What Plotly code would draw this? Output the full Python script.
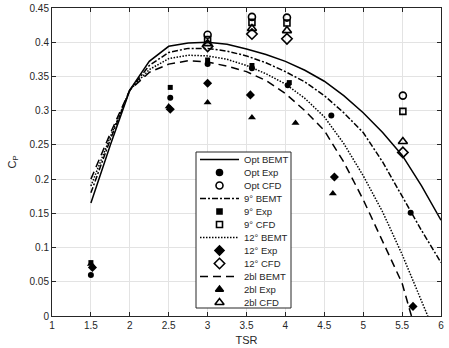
import plotly.graph_objects as go

# ---------------- data ----------------
tsr_bemt = [1.5, 1.75, 2.0, 2.25, 2.5, 2.75, 3.0, 3.25, 3.5, 3.75, 4.0, 4.25, 4.5, 4.75, 5.0, 5.25, 5.5, 5.75, 6.0]
opt_bemt = [0.165, 0.250, 0.330, 0.372, 0.394, 0.399, 0.400, 0.397, 0.390, 0.382, 0.372, 0.359, 0.343, 0.322, 0.297, 0.268, 0.235, 0.190, 0.140]
nine_bemt = [0.180, 0.258, 0.330, 0.366, 0.385, 0.391, 0.391, 0.387, 0.380, 0.370, 0.357, 0.342, 0.322, 0.297, 0.268, 0.225, 0.175, 0.125, 0.078]
tsr_twelve_bemt = [1.5, 1.75, 2.0, 2.25, 2.5, 2.75, 3.0, 3.25, 3.5, 3.75, 4.0, 4.25, 4.5, 4.75, 5.0, 5.25, 5.5, 5.75, 5.83]
twelve_bemt = [0.190, 0.262, 0.330, 0.360, 0.376, 0.381, 0.380, 0.375, 0.366, 0.354, 0.339, 0.318, 0.291, 0.252, 0.205, 0.152, 0.090, 0.022, 0.0]
tsr_twobl_bemt = [1.5, 1.75, 2.0, 2.25, 2.5, 2.75, 3.0, 3.25, 3.5, 3.75, 4.0, 4.25, 4.5, 4.75, 5.0, 5.25, 5.5, 5.62]
twobl_bemt = [0.200, 0.267, 0.330, 0.356, 0.368, 0.373, 0.371, 0.365, 0.357, 0.344, 0.325, 0.300, 0.271, 0.225, 0.170, 0.108, 0.048, 0.0]

tsr_opt_exp = [1.5, 2.52, 3.0, 3.57, 4.03, 4.59, 5.61]
opt_exp = [0.060, 0.319, 0.368, 0.362, 0.337, 0.293, 0.151]
tsr_nine_exp = [1.5, 2.52, 3.0, 3.57, 4.05]
nine_exp = [0.078, 0.334, 0.374, 0.366, 0.341]
tsr_twelve_exp = [1.52, 2.52, 3.0, 3.55, 4.63, 5.64]
twelve_exp = [0.071, 0.302, 0.340, 0.323, 0.203, 0.014]
tsr_twobl_exp = [1.5, 2.5, 3.0, 3.57, 4.13, 4.61]
twobl_exp = [0.076, 0.306, 0.312, 0.290, 0.282, 0.179]

tsr_cfd = [3.0, 3.57, 4.02, 5.51]
opt_cfd = [0.411, 0.437, 0.436, 0.322]
nine_cfd = [0.404, 0.429, 0.428, 0.299]
twelve_cfd = [0.394, 0.412, 0.405, 0.239]
twobl_cfd = [0.398, 0.420, 0.417, 0.255]

legend_names = ["Opt BEMT", "Opt Exp", "Opt CFD",
                "9° BEMT", "9° Exp", "9° CFD",
                "12° BEMT", "12° Exp", "12° CFD",
                "2bl BEMT", "2bl Exp", "2bl CFD"]

x_ticks = [1, 1.5, 2, 2.5, 3, 3.5, 4, 4.5, 5, 5.5, 6]
y_ticks = [0, 0.05, 0.1, 0.15, 0.2, 0.25, 0.3, 0.35, 0.4, 0.45]

# ---------------- styles ----------------
INK = "#262626"
FONT = "Liberation Sans, Arial, sans-serif"
dashes = {"solid": "solid", "dashdot": "6px,2px,2px,2px", "dot": "1.5px,1.5px", "dash": "8px,5px"}

line_series = [
    (tsr_bemt, opt_bemt, dashes["solid"]),
    (tsr_bemt, nine_bemt, dashes["dashdot"]),
    (tsr_twelve_bemt, twelve_bemt, dashes["dot"]),
    (tsr_twobl_bemt, twobl_bemt, dashes["dash"]),
]
exp_series = [
    (tsr_opt_exp, opt_exp, "circle", 6),
    (tsr_nine_exp, nine_exp, "square", 5),
    (tsr_twelve_exp, twelve_exp, "diamond", 7),
    (tsr_twobl_exp, twobl_exp, "triangle-up", 7),
]
cfd_series = [
    (tsr_cfd, opt_cfd, "circle-open", 7),
    (tsr_cfd, nine_cfd, "square-open", 6),
    (tsr_cfd, twelve_cfd, "diamond-open", 8),
    (tsr_cfd, twobl_cfd, "triangle-up-open", 8),
]

fig = go.Figure()
for (x, y, d) in line_series:
    fig.add_trace(go.Scatter(x=x, y=y, mode="lines", showlegend=False,
                             line=dict(color="black", width=1.5, dash=d)))
for (x, y, s, sz) in exp_series:
    fig.add_trace(go.Scatter(x=x, y=y, mode="markers", showlegend=False,
                             marker=dict(symbol=s, size=sz, color="black")))
for (x, y, s, sz) in cfd_series:
    fig.add_trace(go.Scatter(x=x, y=y, mode="markers", showlegend=False,
                             marker=dict(symbol=s, size=sz, color="black",
                                         line=dict(width=1.6, color="black"))))

# ---------------- hand-built legend (overlay axes in plot-area fractions) ----------------
W, H = 449, 348
ML, MR, MT, MB = 52, 8, 8, 32
pw, ph = W - ML - MR, H - MT - MB

def fx(px):
    return (px - ML) / pw

def fy(py):
    return (H - MB - py) / ph

box_l, box_r, box_t, box_b = 196, 291, 152, 308
fig.add_trace(go.Scatter(
    x=[fx(box_l), fx(box_r), fx(box_r), fx(box_l), fx(box_l)],
    y=[fy(box_t), fy(box_t), fy(box_b), fy(box_b), fy(box_t)],
    xaxis="x2", yaxis="y2", mode="lines", fill="toself", fillcolor="white",
    line=dict(color=INK, width=1), showlegend=False, hoverinfo="skip"))

row0, row_h = 159.5, 13.0
styles = []
for i in range(4):
    styles.append(("line", line_series[i][2]))
    styles.append(("marker", exp_series[i]))
    styles.append(("marker", cfd_series[i]))

for k, name in enumerate(legend_names):
    yy = fy(row0 + row_h * k)
    kind, st = styles[k]
    if kind == "line":
        fig.add_trace(go.Scatter(x=[fx(200), fx(239)], y=[yy, yy], xaxis="x2", yaxis="y2",
                                 mode="lines", line=dict(color="black", width=1.5, dash=st),
                                 showlegend=False, hoverinfo="skip"))
    else:
        _, _, sym, sz = st
        fig.add_trace(go.Scatter(x=[fx(219.5)], y=[yy], xaxis="x2", yaxis="y2", mode="markers",
                                 marker=dict(symbol=sym, size=sz, color="black",
                                             line=dict(width=1.6, color="black")),
                                 showlegend=False, hoverinfo="skip"))
    fig.add_annotation(x=fx(242), y=yy, xref="paper", yref="paper", text=name,
                       showarrow=False, xanchor="left", yanchor="middle",
                       font=dict(size=9.5, color=INK, family=FONT))

axis_common = dict(showline=True, linecolor=INK, linewidth=1, mirror="allticks",
                   ticks="inside", ticklen=4, tickcolor=INK, tickwidth=1,
                   showgrid=True, gridcolor="#e3e3e3", gridwidth=1, zeroline=False,
                   tickfont=dict(size=10, color=INK, family=FONT))

fig.update_layout(
    width=W, height=H,
    margin=dict(l=ML, r=MR, t=MT, b=MB),
    paper_bgcolor="white", plot_bgcolor="white",
    xaxis=dict(range=[1, 6], tickvals=x_ticks, ticktext=[f"{v:g}" for v in x_ticks],
               title=dict(text="TSR", standoff=6, font=dict(size=11, color=INK, family=FONT)),
               automargin=False, **axis_common),
    yaxis=dict(range=[0, 0.45], tickvals=y_ticks, ticktext=[f"{v:g}" for v in y_ticks],
               title=dict(text="C<sub>P</sub>", standoff=10, font=dict(size=11, color=INK, family=FONT)),
               automargin=False, **axis_common),
    xaxis2=dict(overlaying="x", range=[0, 1], visible=False, fixedrange=True),
    yaxis2=dict(overlaying="y", range=[0, 1], visible=False, fixedrange=True),
    showlegend=False,
)

fig.write_html("out.html")
